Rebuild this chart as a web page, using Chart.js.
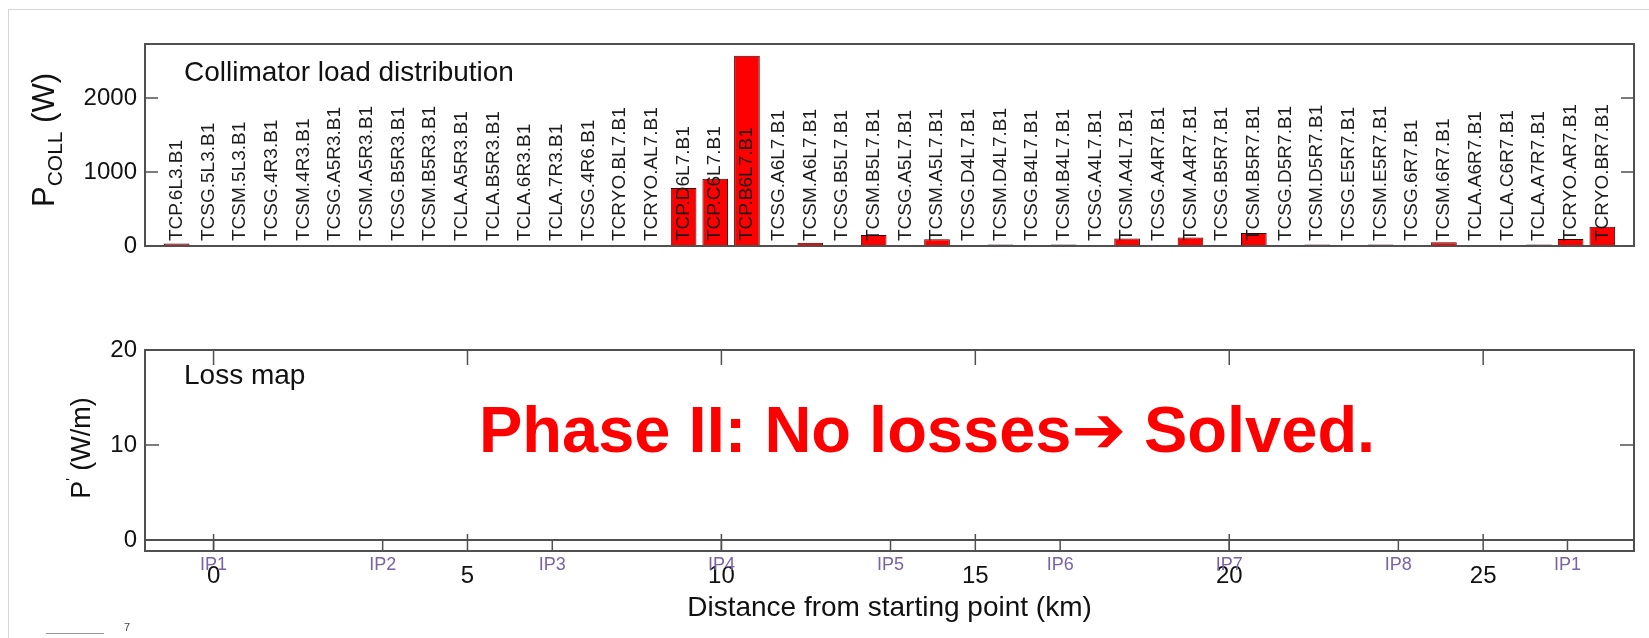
<!DOCTYPE html>
<html>
<head>
<meta charset="utf-8">
<script src="https://cdn.jsdelivr.net/npm/chart.js@4.4.1/dist/chart.umd.min.js"></script>
<style>
  body { margin: 0; background: #fff; }
  #page { position: relative; width: 1649px; height: 638px; overflow: hidden; background: #fff; }
  #frame { position: absolute; left: 8px; top: 9px; right: 0; bottom: 0; border-left: 1px solid #d6d6d6; border-top: 1px solid #d6d6d6; }
  #top { position: absolute; left: 0; top: 0; }
  #bottom { position: absolute; left: 0; top: 300px; }
  #stub { position: absolute; left: 46px; top: 633px; width: 58px; border-top: 1px solid #999; }
  #stubTxt { position: absolute; left: 124px; top: 621px; font: 11px 'Liberation Sans', Arial, sans-serif; color: #444; }
</style>
</head>
<body>
<div id="page">
  <div id="frame"></div>
  <canvas id="top" width="1649" height="300"></canvas>
  <canvas id="bottom" width="1649" height="338"></canvas>
  <div id="stub"></div><div id="stubTxt">7</div>
</div>
<script>
// collimator load distribution (W)
var collimators = [
  'TCP.6L3.B1','TCSG.5L3.B1','TCSM.5L3.B1','TCSG.4R3.B1','TCSM.4R3.B1','TCSG.A5R3.B1',
  'TCSM.A5R3.B1','TCSG.B5R3.B1','TCSM.B5R3.B1','TCLA.A5R3.B1','TCLA.B5R3.B1','TCLA.6R3.B1',
  'TCLA.7R3.B1','TCSG.4R6.B1','TCRYO.BL7.B1','TCRYO.AL7.B1','TCP.D6L7.B1','TCP.C6L7.B1',
  'TCP.B6L7.B1','TCSG.A6L7.B1','TCSM.A6L7.B1','TCSG.B5L7.B1','TCSM.B5L7.B1','TCSG.A5L7.B1',
  'TCSM.A5L7.B1','TCSG.D4L7.B1','TCSM.D4L7.B1','TCSG.B4L7.B1','TCSM.B4L7.B1','TCSG.A4L7.B1',
  'TCSM.A4L7.B1','TCSG.A4R7.B1','TCSM.A4R7.B1','TCSG.B5R7.B1','TCSM.B5R7.B1','TCSG.D5R7.B1',
  'TCSM.D5R7.B1','TCSG.E5R7.B1','TCSM.E5R7.B1','TCSG.6R7.B1','TCSM.6R7.B1','TCLA.A6R7.B1',
  'TCLA.C6R7.B1','TCLA.A7R7.B1','TCRYO.AR7.B1','TCRYO.BR7.B1'
];
var loadW = [
  35, 0, 0, 0, 0, 0,
  0, 0, 0, 0, 0, 0,
  0, 0, 0, 0, 785, 910,
  2570, 0, 45, 0, 150, 0,
  90, 0, 20, 0, 20, 0,
  100, 0, 115, 0, 175, 0,
  20, 0, 20, 0, 50, 0,
  0, 20, 95, 260
];
var topYTicks = [0, 1000, 2000];

// loss map (W/m) along the ring - nothing lost
var lossKm = [-1.4, 28];
var lossWm = [0, 0];
var kmTicks = [0, 5, 10, 15, 20, 25];
var bottomYTicks = [0, 10, 20];
var ipNames = ['IP1','IP2','IP3','IP4','IP5','IP6','IP7','IP8','IP1'];
var ipKm = [0, 3.33, 6.67, 10.0, 13.33, 16.67, 20.0, 23.33, 26.66];

var FONT = "'Liberation Sans', Arial, Helvetica, sans-serif";
var AXIS = '#505050';

function drawFrame(ctx, a) {
  ctx.strokeStyle = AXIS;
  ctx.lineWidth = 2;
  ctx.strokeRect(a.left, a.top, a.right - a.left, a.bottom - a.top);
}
function seg(ctx, x1, y1, x2, y2) {
  ctx.beginPath(); ctx.moveTo(x1, y1); ctx.lineTo(x2, y2); ctx.stroke();
}
// rotated axis title made of pieces (for sub/superscripts)
function vTitle(ctx, cx, cy, parts) {
  ctx.save();
  ctx.translate(cx, cy);
  ctx.rotate(-Math.PI / 2);
  ctx.textAlign = 'left';
  ctx.textBaseline = 'alphabetic';
  ctx.fillStyle = '#111';
  var w = parts.map(function (p) { ctx.font = p.size + 'px ' + FONT; return ctx.measureText(p.t).width; });
  var px = -w.reduce(function (s, v) { return s + v; }, 0) / 2;
  parts.forEach(function (p, i) {
    ctx.font = p.size + 'px ' + FONT;
    ctx.fillText(p.t, px, p.dy);
    px += w[i];
  });
  ctx.restore();
}
function plain(v) { return String(v); }

var topDecor = {
  id: 'topDecor',
  afterDatasetsDraw: function (chart) {
    var ctx = chart.ctx, x = chart.scales.x, y = chart.scales.y;
    var base = y.getPixelForValue(0);
    ctx.save();
    ctx.font = '19px ' + FONT;
    ctx.fillStyle = '#1c1c1c';
    ctx.textAlign = 'left';
    ctx.textBaseline = 'middle';
    collimators.forEach(function (name, i) {
      ctx.save();
      ctx.translate(x.getPixelForValue(i + 1), base - 5);
      ctx.rotate(-Math.PI / 2);
      ctx.fillText(name, 0, 0);
      ctx.restore();
    });
    ctx.restore();
  },
  afterDraw: function (chart) {
    var ctx = chart.ctx, a = chart.chartArea, y = chart.scales.y;
    ctx.save();
    drawFrame(ctx, a);
    ctx.lineWidth = 1.5;
    topYTicks.forEach(function (v) {
      var py = y.getPixelForValue(v);
      seg(ctx, a.left, py, a.left + 13, py);
      seg(ctx, a.right, py, a.right - 13, py);
    });
    ctx.fillStyle = '#111';
    ctx.font = '28px ' + FONT;
    ctx.textAlign = 'left';
    ctx.textBaseline = 'middle';
    ctx.fillText('Collimator load distribution', 184, 73);
    vTitle(ctx, 54, 140, [
      { t: 'P', size: 31, dy: 0 },
      { t: 'COLL', size: 21, dy: 8 },
      { t: ' (W)', size: 31, dy: 0 }
    ]);
    ctx.restore();
  }
};

var bottomDecor = {
  id: 'bottomDecor',
  afterDraw: function (chart) {
    var ctx = chart.ctx, a = chart.chartArea, x = chart.scales.x, y = chart.scales.y;
    var zero = y.getPixelForValue(0);
    ctx.save();
    drawFrame(ctx, a);
    ctx.lineWidth = 1.5;
    kmTicks.forEach(function (v) {
      var px = x.getPixelForValue(v);
      seg(ctx, px, a.top, px, a.top + 15);
      seg(ctx, px, a.bottom, px, a.bottom - 17);
    });
    ipKm.forEach(function (v) {
      var px = x.getPixelForValue(v);
      seg(ctx, px, a.bottom, px, zero);
    });
    bottomYTicks.forEach(function (v) {
      var py = y.getPixelForValue(v);
      seg(ctx, a.left, py, a.left + 14, py);
      seg(ctx, a.right, py, a.right - 14, py);
    });
    // IP markers
    ctx.font = '18px ' + FONT;
    ctx.fillStyle = '#7a62a3';
    ctx.textAlign = 'center';
    ctx.textBaseline = 'middle';
    ipNames.forEach(function (n, i) {
      ctx.fillText(n, x.getPixelForValue(ipKm[i]), a.bottom + 14);
    });
    ctx.fillStyle = '#111';
    ctx.font = '28px ' + FONT;
    ctx.textAlign = 'left';
    ctx.fillText('Loss map', 184, 76);
    vTitle(ctx, 90, 148, [
      { t: 'P', size: 27, dy: 0 },
      { t: "'", size: 14, dy: -14 },
      { t: ' (W/m)', size: 27, dy: 0 }
    ]);
    // note on the plot
    ctx.fillStyle = '#ff0000';
    ctx.font = "bold 65px 'Liberation Sans', Arial, 'DejaVu Sans', sans-serif";
    ctx.textBaseline = 'alphabetic';
    ctx.fillText('Phase II: No losses\u2794 Solved.', 479, 152);
    ctx.restore();
  }
};

new Chart('top', {
  type: 'bar',
  data: {
    datasets: [{
      data: collimators.map(function (n, i) { return { x: i + 1, y: loadW[i] }; }),
      backgroundColor: '#ff0000',
      borderColor: '#3a0000',
      borderWidth: 1,
      barPercentage: 0.9,
      categoryPercentage: 0.9
    }]
  },
  options: {
    responsive: false,
    animation: false,
    layout: { padding: { top: 44, right: 15, bottom: 54, left: 0 } },
    plugins: { legend: { display: false }, tooltip: { enabled: false } },
    scales: {
      x: {
        type: 'linear', min: 0, max: collimators.length + 1, offset: false,
        grid: { display: false, drawTicks: false }, border: { display: false },
        ticks: { display: false },
        afterFit: function (s) { s.height = 0; }
      },
      y: {
        min: 0, max: 2730,
        afterBuildTicks: function (s) { s.ticks = topYTicks.map(function (v) { return { value: v }; }); },
        grid: { display: false, drawTicks: false }, border: { display: false },
        ticks: { font: { family: FONT, size: 24 }, color: '#111', padding: 8, callback: plain },
        afterFit: function (s) { s.width = 145; }
      }
    }
  },
  plugins: [topDecor]
});

new Chart('bottom', {
  type: 'line',
  data: {
    datasets: [{
      data: lossKm.map(function (v, i) { return { x: v, y: lossWm[i] }; }),
      borderColor: AXIS,
      borderWidth: 2,
      pointRadius: 0
    }]
  },
  options: {
    responsive: false,
    animation: false,
    layout: { padding: { top: 50, right: 15, bottom: 0, left: 0 } },
    plugins: { legend: { display: false }, tooltip: { enabled: false } },
    scales: {
      x: {
        type: 'linear', min: -1.35, max: 27.97,
        afterBuildTicks: function (s) { s.ticks = kmTicks.map(function (v) { return { value: v }; }); },
        grid: { display: false, drawTicks: false }, border: { display: false },
        ticks: { font: { family: FONT, size: 24 }, color: '#111', padding: 11, callback: plain },
        title: { display: true, text: 'Distance from starting point (km)', font: { family: FONT, size: 28 }, color: '#111', padding: { top: 0, bottom: 13 } },
        afterFit: function (s) { s.height = 87; }
      },
      y: {
        min: -1.16, max: 20,
        afterBuildTicks: function (s) { s.ticks = bottomYTicks.map(function (v) { return { value: v }; }); },
        grid: { display: false, drawTicks: false }, border: { display: false },
        ticks: { font: { family: FONT, size: 24 }, color: '#111', padding: 8, callback: plain },
        afterFit: function (s) { s.width = 145; }
      }
    }
  },
  plugins: [bottomDecor]
});
</script>
</body>
</html>
